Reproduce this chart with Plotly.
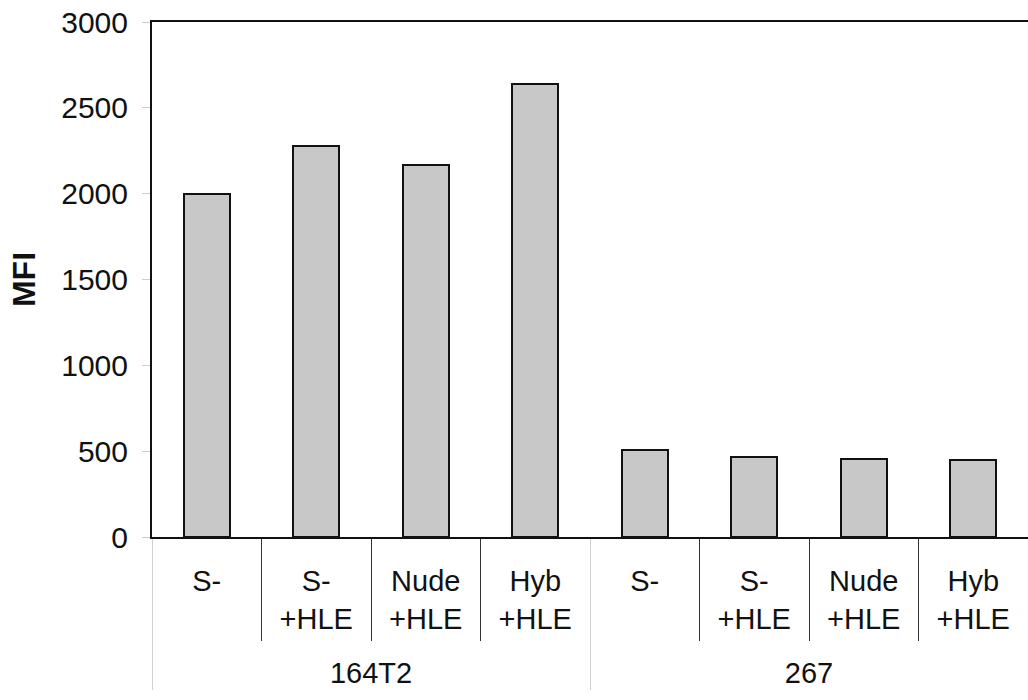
import plotly.graph_objects as go

groups = ["<br>164T2"] * 4 + ["<br>267"] * 4
conditions = ["S-", "S-<br>+HLE", "Nude<br>+HLE", "Hyb<br>+HLE"] * 2
mfi = [2000, 2280, 2165, 2640, 505, 465, 455, 450]
y_ticks = [0, 500, 1000, 1500, 2000, 2500, 3000]

FONT = "Liberation Sans, Arial, sans-serif"

fig = go.Figure()
fig.add_trace(go.Bar(
    x=[groups, conditions],
    y=mfi,
    width=0.42,
    marker=dict(color="#c8c8c8", line=dict(color="#111111", width=2)),
))

fig.update_layout(
    width=1028, height=700,
    margin=dict(l=152, r=0, t=22, b=163),
    paper_bgcolor="white", plot_bgcolor="white",
    showlegend=False,
    font=dict(family=FONT, size=29, color="#111111"),
    bargap=0,
)
fig.update_xaxes(
    type="multicategory",
    showline=True, linecolor="#111111", linewidth=2, mirror=True,
    ticks="outside", tickson="boundaries", ticklen=102, tickcolor="#333333", tickwidth=1,
    ticklabelstandoff=17,
    showdividers=True, dividercolor="#d0d0d0", dividerwidth=1,
    showgrid=False,
    tickfont=dict(family=FONT, size=29, color="#111111"),
)
fig.update_yaxes(
    range=[0, 3000], tickvals=y_ticks,
    showline=True, linecolor="#111111", linewidth=2,
    ticks="outside", ticklen=8, tickcolor="#cccccc", tickwidth=1,
    ticklabelstandoff=8,
    showgrid=False, zeroline=False,
    tickfont=dict(family=FONT, size=30, color="#111111"),
    title=dict(text="<b>MFI</b>", font=dict(family=FONT, size=32, color="#111111"), standoff=16),
)

fig.write_html("out.html", config={"displayModeBar": False},
               post_script="document.body.style.margin='0px';")
